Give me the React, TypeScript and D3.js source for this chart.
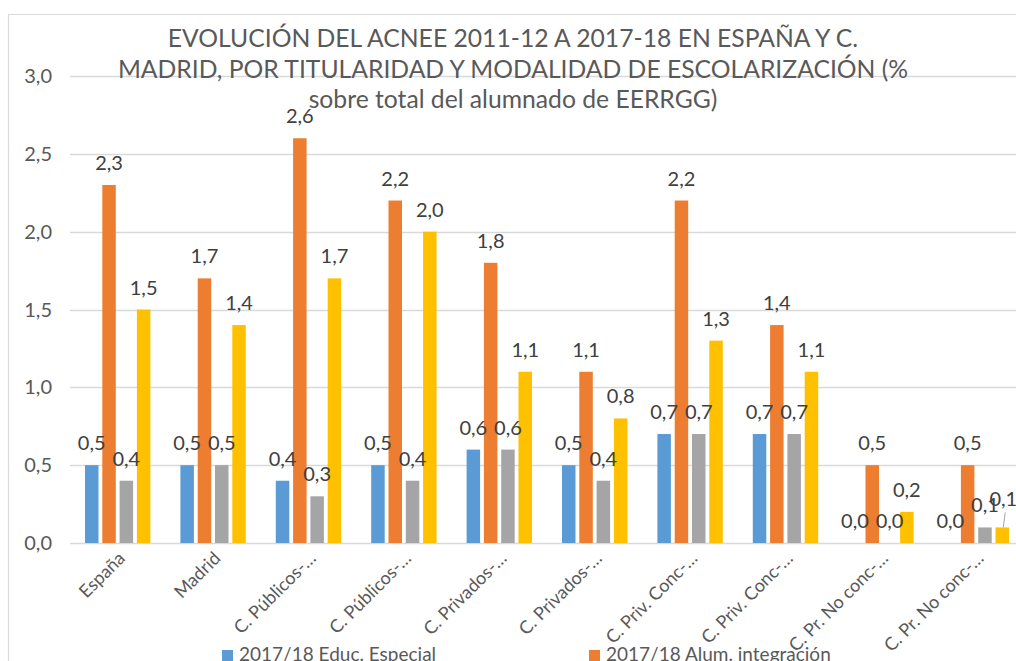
import React, { useEffect, useRef } from 'react';
import * as d3 from 'd3';

const categories = [
  'España',
  'Madrid',
  'C. Públicos-…',
  'C. Públicos-…',
  'C. Privados-…',
  'C. Privados-…',
  'C. Priv. Conc-…',
  'C. Priv. Conc-…',
  'C. Pr. No conc-…',
  'C. Pr. No conc-…',
];

const seriesNames = [
  '2017/18 Educ. Especial',
  '2017/18 Alum. integración',
  '2011/12 Educ. Especial',
  '2011/12 Alum. integración',
];
const seriesColors = ['#5b9bd5', '#ed7d31', '#a5a5a5', '#ffc000'];

const educEspecial1718 = [0.5, 0.5, 0.4, 0.5, 0.6, 0.5, 0.7, 0.7, 0.0, 0.0];
const alumIntegracion1718 = [2.3, 1.7, 2.6, 2.2, 1.8, 1.1, 2.2, 1.4, 0.5, 0.5];
const educEspecial1112 = [0.4, 0.5, 0.3, 0.4, 0.6, 0.4, 0.7, 0.7, 0.0, 0.1];
const alumIntegracion1112 = [1.5, 1.4, 1.7, 2.0, 1.1, 0.8, 1.3, 1.1, 0.2, 0.1];

const yTicks = [0, 0.5, 1, 1.5, 2, 2.5, 3];

const titleLines = [
  'EVOLUCIÓN DEL ACNEE 2011-12 A 2017-18 EN ESPAÑA Y C.',
  'MADRID, POR TITULARIDAD Y MODALIDAD DE ESCOLARIZACIÓN (%',
  'sobre total del alumnado de EERRGG)',
];

const FONT = 'Lato, "Open Sans", sans-serif';
const fmt = (v: number) => v.toFixed(1).replace('.', ',');

export default function App() {
  const ref = useRef<SVGSVGElement | null>(null);

  useEffect(() => {
    if (!ref.current) return;
    const svg = d3.select(ref.current);
    svg.selectAll('*').remove();

    const W = 1016;
    const H = 661;
    const left = 70;
    const step = 95.4;
    const top = 76;
    const bottom = 543;

    svg.append('rect').attr('width', W).attr('height', H).attr('fill', '#fff');

    // chart frame (cut by the screenshot on the right and bottom)
    svg.append('path')
      .attr('d', `M8.5,${H + 2}V14.5H${W + 2}`)
      .attr('fill', 'none')
      .attr('stroke', '#d9d9d9')
      .attr('stroke-width', 1.2);

    const series = [educEspecial1718, alumIntegracion1718, educEspecial1112, alumIntegracion1112];
    const idx = categories.map((_, i) => i);

    const x = d3.scaleBand<number>()
      .domain(idx)
      .range([left, left + step * categories.length]);

    const xs = d3.scaleBand<number>()
      .domain(d3.range(series.length))
      .range([-32.7, 32.7])
      .paddingInner(0.22);

    const y = d3.scaleLinear().domain([0, 3]).range([bottom, top]);

    // gridlines
    svg.append('g')
      .selectAll('line')
      .data(yTicks)
      .join('line')
      .attr('x1', left)
      .attr('x2', W)
      .attr('y1', d => Math.round(y(d)) + 0.5)
      .attr('y2', d => Math.round(y(d)) + 0.5)
      .attr('stroke', '#d9d9d9')
      .attr('stroke-width', 1.3);

    // y tick labels
    svg.append('g')
      .selectAll('text')
      .data(yTicks)
      .join('text')
      .attr('x', 52)
      .attr('y', d => y(d))
      .attr('dy', '0.35em')
      .attr('text-anchor', 'end')
      .attr('font-family', FONT)
      .attr('font-size', 20)
      .attr('fill', '#595959')
      .text(d => fmt(d));

    // bars
    const cells = idx.flatMap(i => series.map((s, k) => ({ i, k, v: s[i] })));
    svg.append('g')
      .selectAll('rect')
      .data(cells.filter(c => c.v > 0))
      .join('rect')
      .attr('x', c => x(c.i)! + step / 2 + xs(c.k)!)
      .attr('y', c => y(c.v))
      .attr('width', xs.bandwidth())
      .attr('height', c => y(0) - y(c.v))
      .attr('fill', c => seriesColors[c.k]);

    // data labels, nudged up a bit when two labels collide
    type Lab = { x: number; y: number; text: string; lifted: boolean; barTop: number };
    const labs: Lab[] = [];
    cells.forEach(c => {
      const cx = x(c.i)! + step / 2 + xs(c.k)! + xs.bandwidth() / 2;
      let ly = y(c.v) - 15;
      let lx = cx;
      let lifted = false;
      const prev = labs[labs.length - 1];
      if (prev && c.k > 0 && Math.abs(prev.x - cx) < 26 && Math.abs(prev.y - ly) < 14) {
        ly -= 6;
        lx += 1;
        lifted = true;
      }
      labs.push({ x: lx, y: ly, text: fmt(c.v), lifted, barTop: y(c.v) });
    });

    svg.append('g')
      .selectAll('line')
      .data(labs.filter(l => l.lifted))
      .join('line')
      .attr('x1', l => l.x + 2)
      .attr('y1', l => l.y + 6)
      .attr('x2', l => l.x)
      .attr('y2', l => l.barTop)
      .attr('stroke', '#a6a6a6')
      .attr('stroke-width', 1);

    svg.append('g')
      .selectAll('text')
      .data(labs)
      .join('text')
      .attr('x', l => l.x)
      .attr('y', l => l.y)
      .attr('text-anchor', 'middle')
      .attr('font-family', FONT)
      .attr('font-size', 20)
      .attr('fill', '#404040')
      .text(l => l.text);

    // category labels, rotated
    svg.append('g')
      .selectAll('text')
      .data(idx)
      .join('text')
      .attr('transform', i => `translate(${x(i)! + step / 2 + 4},555) rotate(-45)`)
      .attr('dy', '0.35em')
      .attr('text-anchor', 'end')
      .attr('font-family', FONT)
      .attr('font-size', 18)
      .attr('fill', '#595959')
      .text(i => categories[i]);

    // legend (second row falls outside the picture)
    const legendPos = [
      { x: 222, y: 650 },
      { x: 589, y: 650 },
      { x: 222, y: 682 },
      { x: 589, y: 682 },
    ];
    const lg = svg.append('g')
      .selectAll('g')
      .data(seriesNames)
      .join('g')
      .attr('transform', (_, k) => `translate(${legendPos[k].x},${legendPos[k].y})`);
    lg.append('rect').attr('width', 11).attr('height', 11).attr('fill', (_, k) => seriesColors[k]);
    lg.append('text')
      .attr('x', 17)
      .attr('y', 11)
      .attr('font-family', FONT)
      .attr('font-size', 19)
      .attr('fill', '#595959')
      .text(d => d);

    // title, drawn over the plot like in the original
    svg.append('g')
      .selectAll('text')
      .data(titleLines)
      .join('text')
      .attr('x', 513)
      .attr('y', (_, i) => 47 + i * 30.5)
      .attr('text-anchor', 'middle')
      .attr('font-family', FONT)
      .attr('font-size', 24.7)
      .attr('fill', '#595959')
      .text(d => d);
  }, []);

  return (
    <svg
      ref={ref}
      width={1016}
      height={661}
      style={{ position: 'absolute', left: 0, top: 0, display: 'block' }}
    />
  );
}
